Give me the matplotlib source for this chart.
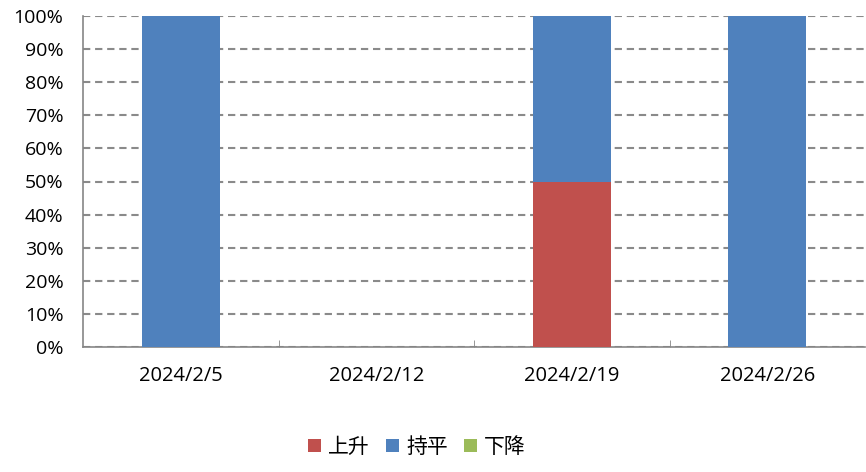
import matplotlib
matplotlib.use("Agg")
import matplotlib.pyplot as plt
import numpy as np
from matplotlib.ticker import FuncFormatter, MultipleLocator

categories = ["2024/2/5", "2024/2/12", "2024/2/19", "2024/2/26"]
up = [0, 0, 50, 0]
flat = [100, 0, 50, 100]
down = [0, 0, 0, 0]
series_names = ["上升", "持平", "下降"]
colors = ["#C0504D", "#4F81BD", "#9BBB59"]

plt.rcParams['font.family'] = ['Open Sans', 'Noto Sans CJK SC', 'DejaVu Sans']

fig = plt.figure(figsize=(8.66, 4.72), dpi=100)
ax = fig.add_axes([83/866, 1-347/472, (865-83)/866, (347-16)/472])

x = np.arange(len(categories))
w = 0.4
b1 = ax.bar(x, up, w, color=colors[0], label=series_names[0], zorder=3)
b2 = ax.bar(x, flat, w, bottom=up, color=colors[1], label=series_names[1], zorder=3)
bottom3 = np.array(up) + np.array(flat)
b3 = ax.bar(x, down, w, bottom=bottom3, color=colors[2], label=series_names[2], zorder=3)

ax.set_xlim(-0.5, len(categories) - 0.5)
ax.set_ylim(0, 100)
ax.yaxis.set_major_locator(MultipleLocator(10))
ax.yaxis.set_major_formatter(FuncFormatter(lambda v, p: f"{int(v)}%"))
ax.grid(axis='y', color='#8a8a8a', linestyle=(0, (3.5, 2.3)), linewidth=1.5, zorder=0)

ax.set_xticks(x)
ax.set_xticklabels(categories)
ax.set_xticks(np.arange(len(categories) - 1) + 0.5, minor=True)
ax.tick_params(axis='x', which='major', length=0, pad=14, labelsize=14.5)
ax.tick_params(axis='x', which='minor', length=5, direction='in', color='#868686')
ax.tick_params(axis='y', length=0, labelsize=14, pad=14)

for s in ['top', 'right']:
    ax.spines[s].set_visible(False)
for s in ['left', 'bottom']:
    ax.spines[s].set_color('#868686')
    ax.spines[s].set_linewidth(1.2)

leg = fig.legend(handles=[b1, b2, b3], labels=series_names, loc='center',
                 bbox_to_anchor=(417/866, 1-447/472), ncol=3, frameon=False,
                 handlelength=0.6, handleheight=0.6, handletextpad=0.35,
                 columnspacing=0.8, prop={'family': ['Noto Sans CJK SC'], 'size': 15})

fig.savefig("out.png", dpi=100)
